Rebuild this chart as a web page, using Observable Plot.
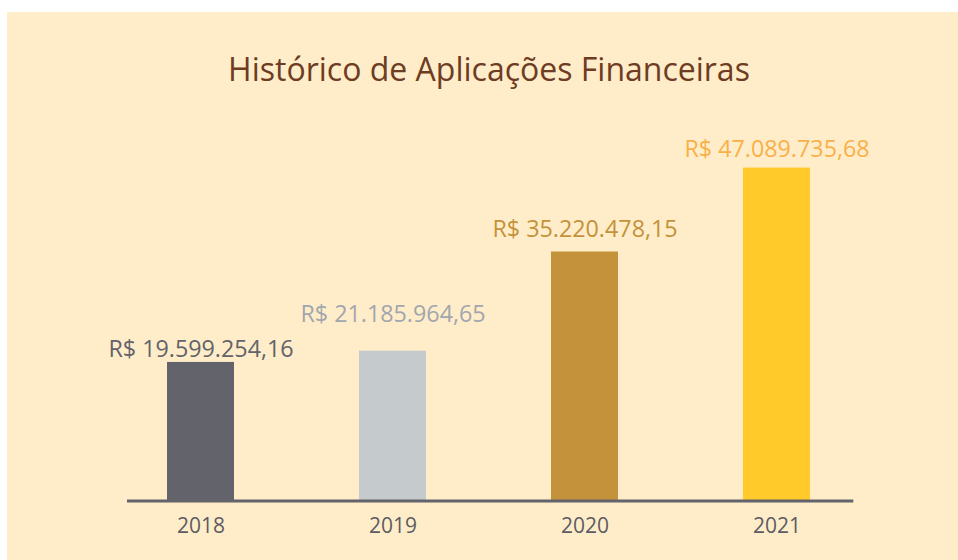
<!DOCTYPE html>
<html>
<head>
<meta charset="utf-8">
<script src="https://cdn.jsdelivr.net/npm/d3@7"></script>
<script src="https://cdn.jsdelivr.net/npm/@observablehq/plot@0.6"></script>
<style>
  html, body { margin: 0; padding: 0; background: #ffffff; width: 958px; height: 560px; overflow: hidden; }
  #panel { position: absolute; left: 7px; top: 12px; width: 951px; height: 548px; background: #FFEDC9; }
  #title { position: absolute; left: 0; top: 0; width: 964px; text-align: center;
           font-family: "Open Sans", sans-serif; font-size: 32px; line-height: 40px; padding-top: 37px;
           color: #6E3B23; letter-spacing: 0px; }
  #chart { position: absolute; left: 0; top: 100px; }
  svg text { font-family: "Open Sans", sans-serif; }
</style>
</head>
<body>
<div id="panel">
  <div id="title">Histórico de Aplicações Financeiras</div>
  <div id="chart"></div>
</div>
<script>
const years = ["2018", "2019", "2020", "2021"];
const values = [19599254.16, 21185964.65, 35220478.15, 47089735.68];
const valueLabels = ["R$ 19.599.254,16", "R$ 21.185.964,65", "R$ 35.220.478,15", "R$ 47.089.735,68"];
const barColors = ["#63636B", "#C5CACD", "#C4923A", "#FFCA2A"];
const labelColors = ["#63636B", "#A2A6AE", "#C4923A", "#F9B04A"];

const data = years.map((y, i) => ({year: y, value: values[i], label: valueLabels[i], bar: barColors[i], lab: labelColors[i]}));

// vertical offsets of each value label above its bar (style, not data)
const labelOffsets = [-5, -29, -15, -11];

const chart = Plot.plot({
  width: 951,
  height: 448,
  marginLeft: 120,
  marginRight: 107.2,
  marginTop: 35,
  marginBottom: 59.5,
  style: {background: "transparent", overflow: "visible"},
  x: {domain: years, paddingInner: 0.652, paddingOuter: 0.207, label: null},
  y: {domain: [0, 50000000], axis: null},
  marks: [
    Plot.barY(data, {x: "year", y: "value", fill: "bar"}),
    Plot.ruleY([0], {stroke: "#63636B", strokeWidth: 3, insetRight: -2.5}),
    ...data.map((d, i) => Plot.text([d], {x: "year", y: "value", text: "label", fill: "lab", lineAnchor: "bottom", dy: labelOffsets[i], fontSize: 23.3})),
    Plot.axisX({tickSize: 0, tickPadding: 17, fontSize: 21, color: "#5C5C62", label: null})
  ]
});
document.getElementById("chart").appendChild(chart);
</script>
</body>
</html>
